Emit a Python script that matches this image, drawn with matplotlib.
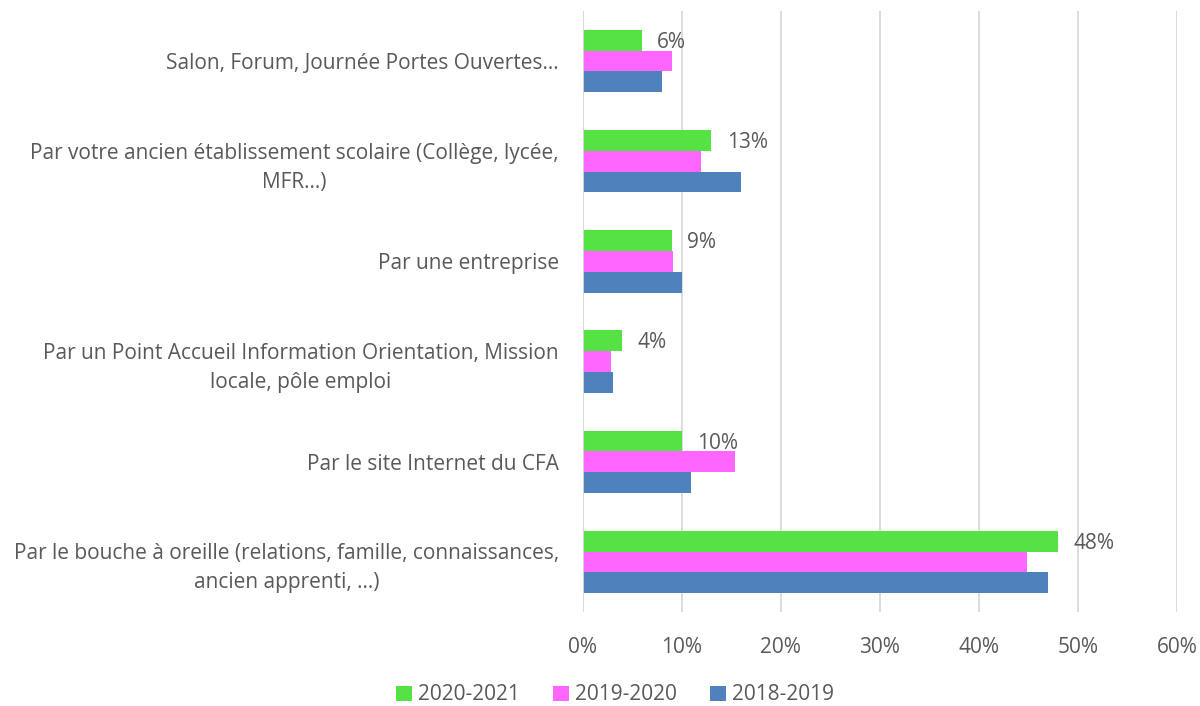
import numpy as np
import matplotlib.pyplot as plt

# Données (en %), catégories de haut en bas
categories = [
    "Salon, Forum, Journée Portes Ouvertes...",
    "Par votre ancien établissement scolaire (Collège, lycée,\nMFR...)",
    "Par une entreprise",
    "Par un Point Accueil Information Orientation, Mission\nlocale, pôle emploi",
    "Par le site Internet du CFA",
    "Par le bouche à oreille (relations, famille, connaissances,\nancien apprenti, ...)",
]
series_names = ["2020-2021", "2019-2020", "2018-2019"]
v_2021 = [6, 13, 9, 4, 10, 48]
v_2020 = [9, 12, 9.1, 2.85, 15.4, 44.9]
v_2019 = [8, 16, 10, 3.05, 11, 47]
labels_2021 = ["6%", "13%", "9%", "4%", "10%", "48%"]

colors = ["#54E244", "#FF66FF", "#4F81BD"]
text_col = "#595959"
fs = 15

plt.rcParams['font.family'] = ['Open Sans', 'DejaVu Sans']

fig = plt.figure(figsize=(12, 7.06), dpi=100)
ax = fig.add_axes([582.5 / 1200, 1 - 612 / 706, (1177 - 582.5) / 1200, 601 / 706])

y = np.arange(len(categories))
h = 0.207
all_vals = [v_2021, v_2020, v_2019]
for i, (vals, name, c) in enumerate(zip(all_vals, series_names, colors)):
    ax.barh(y + (i - 1) * h, vals, height=h, color=c, label=name, zorder=3)

# étiquettes seulement pour la série 2020-2021
for yi, v, lab in zip(y, v_2021, labels_2021):
    ax.text(v + 1.55, yi - h + 0.02, lab, va='center', ha='left', fontsize=fs, color=text_col)

ax.set_xlim(0, 60)
ax.set_ylim(len(categories) - 0.5, -0.5)
ax.set_xticks(np.arange(0, 61, 10))
ax.set_xticklabels([f"{t}%" for t in range(0, 61, 10)])
ax.set_yticks(y)
ax.set_yticklabels(categories, multialignment='center', linespacing=1.5)
ax.tick_params(axis='both', length=0, colors=text_col, labelsize=fs)
ax.tick_params(axis='x', pad=18)
ax.tick_params(axis='y', pad=17)
ax.grid(axis='x', color='#D9D9D9', linewidth=1.3, zorder=0)
for s in ax.spines.values():
    s.set_visible(False)
ax.axvline(0, color='#D9D9D9', linewidth=1.3, zorder=4)

fig.legend(loc='center', bbox_to_anchor=(615 / 1200, 1 - 695 / 706),
           ncol=3, frameon=False, fontsize=fs, handlelength=0.75, handleheight=0.75,
           columnspacing=1.6, handletextpad=0.3, labelcolor=text_col)

fig.savefig("out.png", dpi=100, facecolor='white')
